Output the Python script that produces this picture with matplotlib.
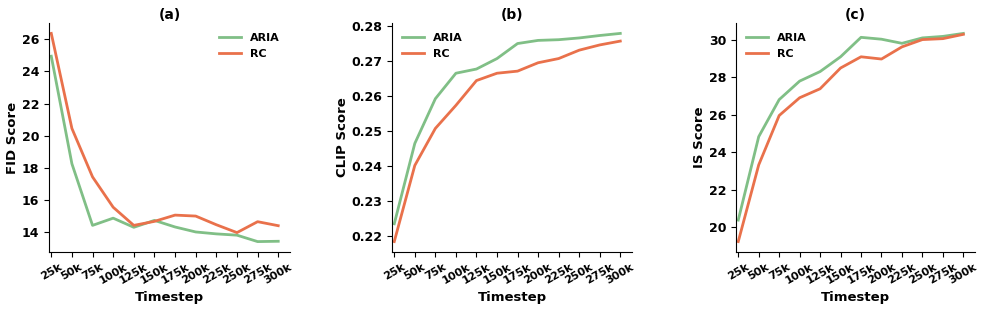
import matplotlib
matplotlib.use('Agg')
import matplotlib.pyplot as plt

steps = ['25k', '50k', '75k', '100k', '125k', '150k', '175k', '200k', '225k', '250k', '275k', '300k']

fid_aria = [24.95, 18.25, 14.41, 14.86, 14.29, 14.72, 14.31, 14.0, 13.88, 13.8, 13.4, 13.42]
fid_rc = [26.37, 20.45, 17.43, 15.54, 14.41, 14.66, 15.05, 14.99, 14.45, 13.96, 14.64, 14.39]

clip_aria = [0.2234, 0.2464, 0.2592, 0.2665, 0.2677, 0.2707, 0.2750, 0.2759, 0.2761, 0.2766, 0.2773, 0.2779]
clip_rc = [0.2183, 0.2401, 0.2507, 0.2573, 0.2644, 0.2665, 0.2671, 0.2695, 0.2707, 0.2731, 0.2746, 0.2757]

is_aria = [20.37, 24.83, 26.81, 27.8, 28.31, 29.1, 30.14, 30.04, 29.82, 30.11, 30.19, 30.35]
is_rc = [19.22, 23.32, 25.96, 26.91, 27.39, 28.5, 29.1, 28.98, 29.63, 30.02, 30.07, 30.3]

green = '#80bf86'
orange = '#e9714b'

plt.rcParams['font.family'] = 'DejaVu Sans'
plt.rcParams['font.weight'] = 'bold'

fig = plt.figure(figsize=(9.83, 3.09), dpi=100)

# axes positions in figure pixels (left, right)
panels = [
    (49, 290, fid_aria, fid_rc, 'FID Score', '(a)', 'upper right', [14, 16, 18, 20, 22, 24, 26]),
    (392, 632, clip_aria, clip_rc, 'CLIP Score', '(b)', 'upper left', None),
    (736, 975, is_aria, is_rc, 'IS Score', '(c)', 'upper left', [20, 22, 24, 26, 28, 30]),
]
W, H = 983.0, 309.0
top_px, bot_px = 23, 252
x = list(range(len(steps)))

for left, right, ya, yr, ylabel, title, loc, yticks in panels:
    ax = fig.add_axes([left / W, 1 - bot_px / H, (right - left) / W, (bot_px - top_px) / H])
    ax.plot(x, ya, color=green, lw=2, label='ARIA')
    ax.plot(x, yr, color=orange, lw=2, label='RC')
    ax.set_xlim(-0.11, 11.57)
    ax.set_xticks(x)
    ax.set_xticklabels(steps, rotation=30, fontsize=8, fontweight='bold')
    if yticks is not None:
        ax.set_yticks(yticks)
    ax.tick_params(axis='y', labelsize=9)
    for lab in ax.get_yticklabels():
        lab.set_fontweight('bold')
    ax.set_xlabel('Timestep', fontsize=9.5, fontweight='bold')
    ax.set_ylabel(ylabel, fontsize=9.5, fontweight='bold', labelpad=2)
    ax.set_title(title, fontsize=10, fontweight='bold', pad=3)
    ax.spines['top'].set_visible(False)
    ax.spines['right'].set_visible(False)
    leg = ax.legend(loc=loc, frameon=False, fontsize=8)
    for t in leg.get_texts():
        t.set_fontweight('bold')

fig.savefig('out.png', dpi=100)
